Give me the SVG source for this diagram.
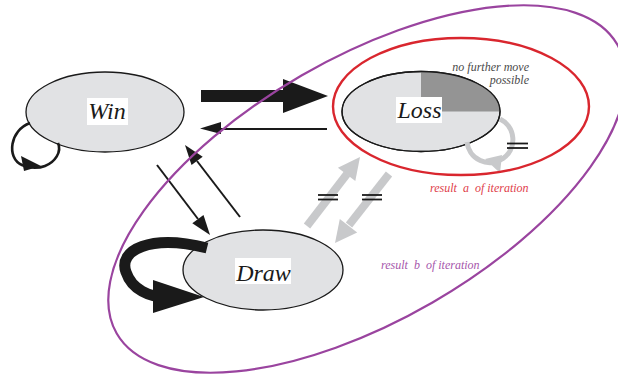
<svg xmlns="http://www.w3.org/2000/svg" width="618" height="377" viewBox="0 0 618 377">
  <style>
    .state { fill: #e1e2e4; stroke: #1a1a1a; stroke-width: 1.3; }
    .labelbox { fill: #ffffff; }
    .label { font-family: "Liberation Serif", "Times New Roman", serif; font-style: italic; font-size: 24px; fill: #1a1a1a; text-anchor: middle; }
    .note { font-family: "Liberation Serif", "Times New Roman", serif; font-style: italic; font-size: 12px; white-space: pre; }
    .blk { stroke: #1a1a1a; fill: none; }
    .blkfill { fill: #1a1a1a; }
    .gry { stroke: #c8c9cb; fill: none; }
    .gryfill { fill: #c8c9cb; }
    .eq { stroke: #1a1a1a; stroke-width: 1.8; }
  </style>

  <!-- states -->
  <g id="win">
    <ellipse class="state" cx="105" cy="112" rx="79" ry="40"/>
    <rect class="labelbox" x="87" y="98" width="41" height="27"/>
    <text class="label" x="107" y="119">Win</text>
  </g>

  <g id="loss">
    <ellipse class="state" cx="421" cy="111.5" rx="79" ry="40" stroke="none"/>
    <path d="M421,111.5 L421,71.5 A79,40 0 0 1 500,111.5 Z" fill="#949494"/>
    <ellipse cx="421" cy="111.5" rx="79" ry="40" fill="none" stroke="#1a1a1a" stroke-width="1.3"/>
    <rect class="labelbox" x="396" y="97" width="46" height="26"/>
    <text class="label" x="419.5" y="118">Loss</text>
  </g>

  <g id="draw">
    <ellipse class="state" cx="263" cy="270" rx="80" ry="40"/>
    <rect class="labelbox" x="235" y="258" width="56" height="26"/>
    <text class="label" x="263.5" y="281">Draw</text>
  </g>

  <!-- transitions -->
  <g id="connectors">
    <!-- Win self loop -->
    <path class="blk" stroke-width="2.6" d="M30,123 C10,130 6,158 22,165 C30,169 40,168 45,166 C55,162 62,152 58,143"/>
    <polygon class="blkfill" points="21,156 24,171 41,166"/>

    <!-- Win to Loss (thick) -->
    <polygon class="blkfill" points="201,90 283,90 283,79 328,96 283,113 283,102 201,102"/>

    <!-- Loss to Win (thin) -->
    <line class="blk" stroke-width="2" x1="327" y1="129" x2="215" y2="129"/>
    <polygon class="blkfill" points="200,128.5 221,122 221,134"/>

    <!-- Win to Draw -->
    <line class="blk" stroke-width="2" x1="157" y1="165" x2="198" y2="219"/>
    <polygon class="blkfill" points="210,235 192.3,223.3 203.5,214.9"/>

    <!-- Draw to Win -->
    <line class="blk" stroke-width="2" x1="240" y1="217" x2="197" y2="161"/>
    <polygon class="blkfill" points="185,145 202.7,156.7 191.5,165.1"/>

    <!-- Draw self loop (thick) -->
    <path class="blk" stroke-width="11" d="M207,248 C150,234 118,250 126,272 C132,290 150,297 165,297"/>
    <polygon class="blkfill" points="153,280 153,313 204,297"/>

    <!-- Loss self loop (grey) -->
    <path class="gry" stroke-width="5" d="M467,142 A23,23 0 1 0 500,119"/>
    <polygon class="gryfill" points="485,159 502,155 500,173"/>

    <!-- Draw to Loss (grey) -->
    <line class="gry" stroke-width="8" x1="307" y1="226" x2="347" y2="174"/>
    <polygon class="gryfill" points="360,157 355.3,181.1 337.9,167.7"/>

    <!-- Loss to Draw (grey) -->
    <line class="gry" stroke-width="8" x1="389" y1="174" x2="349" y2="225"/>
    <polygon class="gryfill" points="335,243 357.2,232.5 339.8,218.9"/>

    <!-- equality marks -->
    <line class="eq" x1="318" y1="195" x2="338" y2="195"/>
    <line class="eq" x1="318" y1="199.5" x2="338" y2="199.5"/>
    <line class="eq" x1="362" y1="195" x2="382" y2="195"/>
    <line class="eq" x1="362" y1="199.5" x2="382" y2="199.5"/>
    <line class="eq" x1="507" y1="143.5" x2="528" y2="143.5"/>
    <line class="eq" x1="507" y1="148" x2="528" y2="148"/>
  </g>

  <!-- iteration results -->
  <g id="result-a">
    <ellipse cx="461" cy="106.5" rx="128" ry="68.5" fill="none" stroke="#d9262e" stroke-width="2.4"/>
    <text class="note" x="430" y="192" fill="#e0404a">result  a  of iteration</text>
  </g>

  <g id="result-b">
    <ellipse cx="367" cy="189" rx="289" ry="131" transform="rotate(-30 367 189)" fill="none" stroke="#9a449f" stroke-width="2.2"/>
    <text class="note" x="381" y="269" fill="#a656ab">result  b  of iteration</text>
  </g>

  <g id="note-loss">
    <text class="note" x="529" y="71" fill="#4a4a4a" text-anchor="end">no further move</text>
    <text class="note" x="529" y="84" fill="#4a4a4a" text-anchor="end">possible</text>
  </g>
</svg>
